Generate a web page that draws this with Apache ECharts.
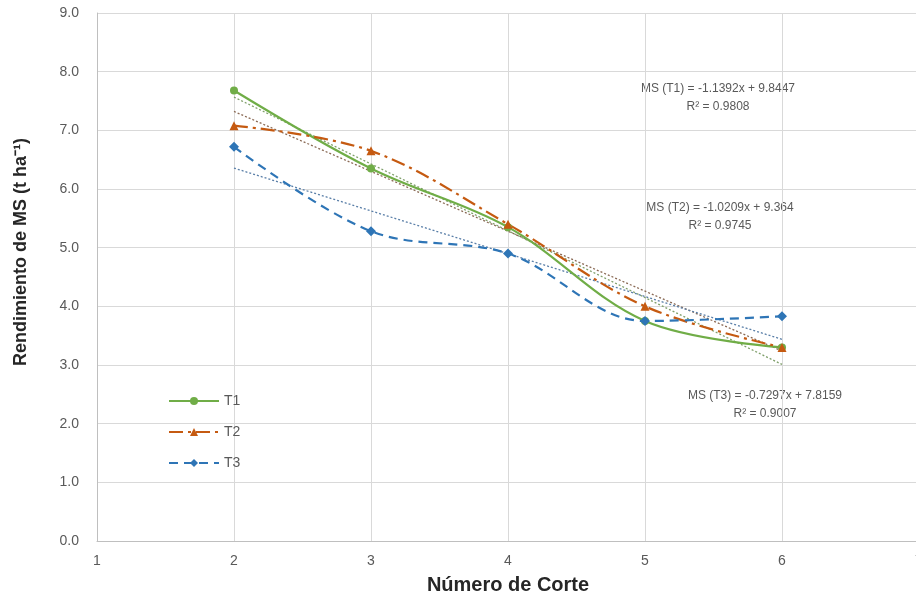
<!DOCTYPE html>
<html><head><meta charset="utf-8">
<script src="https://cdn.jsdelivr.net/npm/echarts@6/dist/echarts.min.js"></script>
<style>html,body{margin:0;padding:0;background:#fff}#c{width:916px;height:602px}</style>
</head><body><div id="c"></div>
<script>
const cortes = [2, 3, 4, 5, 6];
const t1 = [7.68, 6.35, 5.35, 3.75, 3.30];
const t2 = [7.08, 6.65, 5.40, 4.00, 3.30];
const t3 = [6.72, 5.28, 4.90, 3.75, 3.83];
const seriesNames = ['T1', 'T2', 'T3'];
const trendSlopes = [-1.1392, -1.0209, -0.7297];
const trendIntercepts = [9.8447, 9.364, 7.8159];
const trendLabels = [
  ['MS (T1) = -1.1392x + 9.8447', 'R² = 0.9808'],
  ['MS (T2) = -1.0209x + 9.364', 'R² = 0.9745'],
  ['MS (T3) = -0.7297x + 7.8159', 'R² = 0.9007']
];
const colors = ['#70AD47', '#C55A11', '#2E75B6'];
const values = [t1, t2, t3];
const FONT = '"Liberation Sans", Arial, sans-serif';

const chart = echarts.init(document.getElementById('c'));
const series = [];
const styles = [
  {type: 'solid', symbol: 'circle', size: 8},
  {type: [14, 5, 3, 5], symbol: 'triangle', size: 9},
  {type: [9, 6], symbol: 'diamond', size: 10}
];
values.forEach((v, i) => {
  series.push({
    name: seriesNames[i], type: 'line', smooth: 0.35,
    data: cortes.map((x, j) => [x, v[j]]),
    symbol: styles[i].symbol, symbolSize: styles[i].size,
    lineStyle: {color: colors[i], width: 2.2, type: styles[i].type},
    itemStyle: {color: colors[i]}, z: 3
  });
  const xs = [cortes[0], cortes[cortes.length - 1]];
  series.push({
    name: 'trend' + i, type: 'line', symbol: 'none', silent: true,
    data: xs.map(x => [x, trendIntercepts[i] + trendSlopes[i] * x]),
    lineStyle: {color: i === 0 ? '#7f9f6a' : (i === 1 ? '#8a6a55' : '#5a7fa8'), width: 1.3, type: [2, 2]},
    z: 2
  });
});

const labelPos = [[718, 80], [720, 199], [765, 387]];
const graphic = trendLabels.map((t, i) => ({
  type: 'text', x: labelPos[i][0], y: labelPos[i][1],
  style: {text: t.join('\n'), textAlign: 'center', textVerticalAlign: 'top', fill: '#595959',
    font: '12px ' + FONT, lineHeight: 18}
}));
graphic.push({
  type: 'text', x: 21, y: 252, rotation: Math.PI / 2,
  style: {text: 'Rendimiento de MS (t ha⁻¹)', textAlign: 'center', textVerticalAlign: 'middle',
    fill: '#262626', font: 'bold 18px ' + FONT}
});

chart.setOption({
  animation: false,
  grid: {left: 97, right: -3, top: 13, bottom: 61, containLabel: false, outerBoundsMode: 'none'},
  legend: {
    data: seriesNames, orient: 'vertical', left: 163, top: 389, itemGap: 17,
    itemWidth: 50, itemHeight: 10,
    textStyle: {color: '#595959', fontSize: 14, fontFamily: FONT}
  },
  xAxis: {
    type: 'value', min: 1, max: 7, interval: 1,
    name: 'Número de Corte', nameLocation: 'middle', nameGap: 34,
    nameTextStyle: {fontWeight: 'bold', fontSize: 20, color: '#262626', fontFamily: FONT},
    axisLine: {lineStyle: {color: '#bfbfbf'}}, axisTick: {show: false},
    axisLabel: {color: '#595959', fontSize: 14, margin: 13, fontFamily: FONT},
    splitLine: {show: true, lineStyle: {color: '#d9d9d9'}}
  },
  yAxis: {
    type: 'value', min: 0, max: 9, interval: 1,
    axisLine: {show: true, lineStyle: {color: '#bfbfbf'}}, axisTick: {show: false},
    axisLabel: {color: '#595959', fontSize: 14, margin: 18, formatter: v => v.toFixed(1), fontFamily: FONT},
    splitLine: {show: true, lineStyle: {color: '#d9d9d9'}}
  },
  graphic: graphic,
  series: series
});
</script></body></html>
